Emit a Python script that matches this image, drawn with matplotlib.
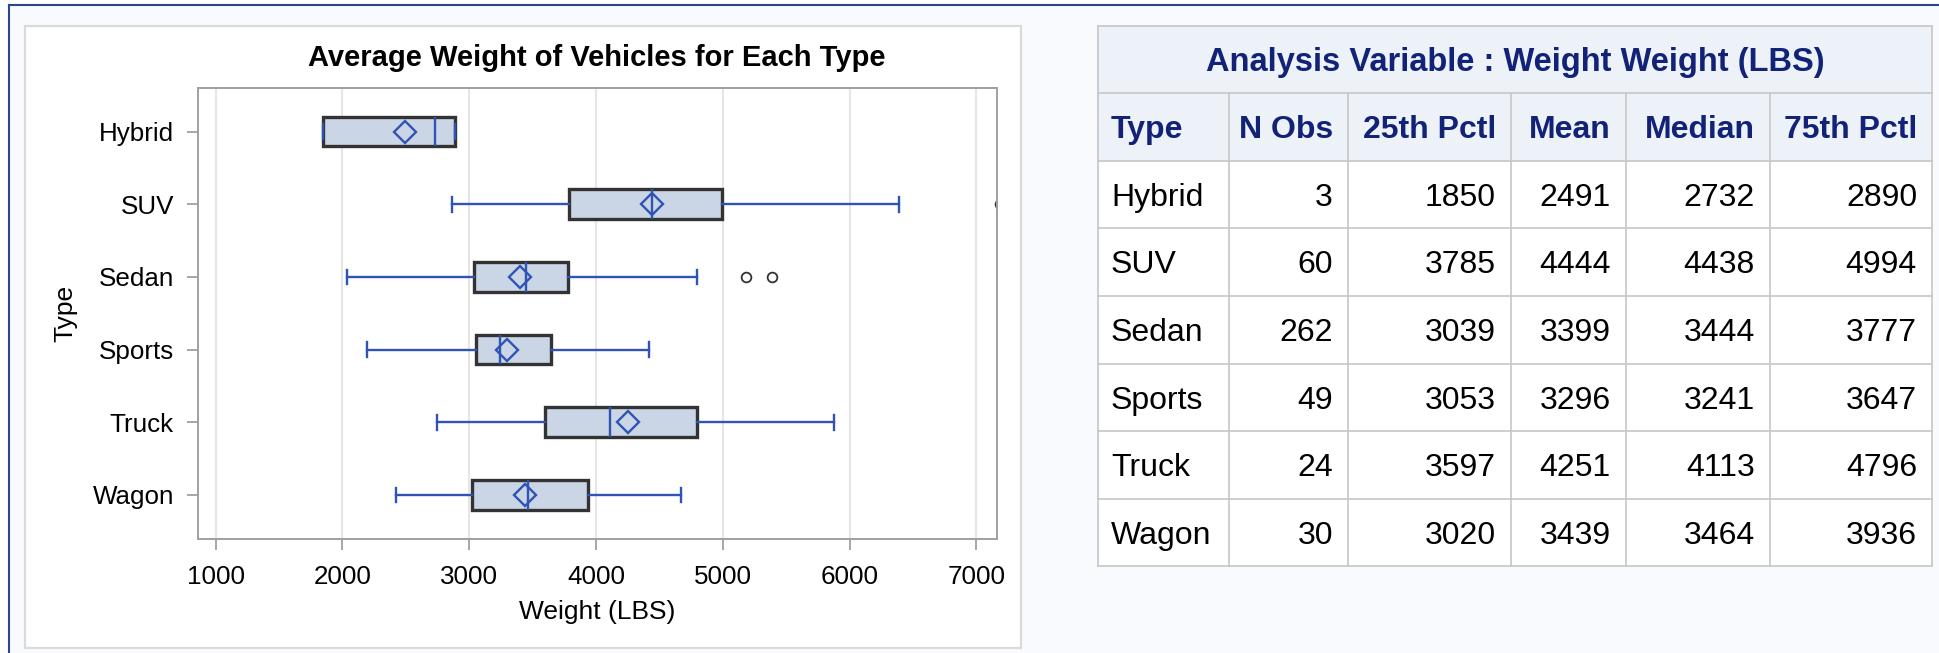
import matplotlib.pyplot as plt
from matplotlib.patches import Rectangle

plt.rcParams['font.family'] = ['Liberation Sans', 'DejaVu Sans']

# summary statistics (from the table)
types = ['Hybrid', 'SUV', 'Sedan', 'Sports', 'Truck', 'Wagon']
n_obs = [3, 60, 262, 49, 24, 30]
pct25 = [1850, 3785, 3039, 3053, 3597, 3020]
means = [2491, 4444, 3399, 3296, 4251, 3439]
medians = [2732, 4438, 3444, 3241, 4113, 3464]
pct75 = [2890, 4994, 3777, 3647, 4796, 3936]
# whisker ends and outliers
whisk_lo = [1850, 2865, 2035, 2195, 2745, 2425]
whisk_hi = [2890, 6390, 4795, 4420, 5875, 4670]
outliers = [[], [7190], [5180, 5390], [], [], []]
xticks = [1000, 2000, 3000, 4000, 5000, 6000, 7000]

col_names = ['Type', 'N Obs', '25th Pctl', 'Mean', 'Median', '75th Pctl']
table_title = 'Analysis Variable : Weight Weight (LBS)'

W, H = 1939, 653
BLUE = '#2F54B4'
HEAD_TXT = '#112277'

fig = plt.figure(figsize=(W / 100, H / 100), dpi=100)

# background layer in pixel coordinates
bg = fig.add_axes([0, 0, 1, 1])
bg.set_xlim(0, W)
bg.set_ylim(H, 0)
bg.axis('off')
bg.add_patch(Rectangle((9, 5), W, H, fc='#F8FAFD', ec='none'))
bg.plot([9, W], [5, 5], color='#2B4592', lw=1.5)
bg.plot([9, 9], [5, H], color='#2B4592', lw=1.5)
bg.add_patch(Rectangle((25, 26), 996, 622, fc='white', ec='#DADADA', lw=1.6))

# chart title
bg.text(597, 66, 'Average Weight of Vehicles for Each Type', ha='center',
        va='baseline', fontsize=21, fontweight='bold', color='black')

# table
col_x = [1098, 1229, 1348, 1511, 1626, 1770, 1932]
row_y = [25.5, 93, 160.5, 228, 295.7, 363.5, 431, 498.7, 566]
grid_c = '#C6C6C6'
fs = 23

bg.add_patch(Rectangle((col_x[0], row_y[0]), col_x[-1] - col_x[0], row_y[2] - row_y[0],
                       fc='#EDF2F9', ec='none'))
bg.add_patch(Rectangle((col_x[0], row_y[2]), col_x[-1] - col_x[0], row_y[-1] - row_y[2],
                       fc='white', ec='none'))
for y in row_y:
    bg.plot([col_x[0], col_x[-1]], [y, y], color=grid_c, lw=1.2)
bg.plot([col_x[0], col_x[0]], [row_y[0], row_y[-1]], color=grid_c, lw=1.2)
bg.plot([col_x[-1], col_x[-1]], [row_y[0], row_y[-1]], color=grid_c, lw=1.2)
for x in col_x[1:-1]:
    bg.plot([x, x], [row_y[1], row_y[-1]], color=grid_c, lw=1.2)

def cell_text(txt, col, row, **kw):
    yc = (row_y[row] + row_y[row + 1]) / 2
    if col == 0:
        bg.text(col_x[0] + 13, yc, txt, ha='left', va='center_baseline', fontsize=fs, **kw)
    else:
        bg.text(col_x[col + 1] - 15, yc, txt, ha='right', va='center_baseline', fontsize=fs, **kw)

bg.text((col_x[0] + col_x[-1]) / 2, (row_y[0] + row_y[1]) / 2, table_title,
        ha='center', va='center_baseline', fontsize=23.5, fontweight='bold', color=HEAD_TXT)
for j, name in enumerate(col_names):
    cell_text(name, j, 1, fontweight='bold', color=HEAD_TXT)
for i, t in enumerate(types):
    vals = [t, n_obs[i], pct25[i], means[i], medians[i], pct75[i]]
    for j, v in enumerate(vals):
        cell_text(str(v), j, i + 2, color='black')

# box plot
ax = fig.add_axes([197.6 / W, (H - 538.5) / H, 799 / W, 450.5 / H])
stats = []
for i, t in enumerate(types):
    stats.append({'label': t, 'q1': pct25[i], 'med': medians[i], 'q3': pct75[i],
                  'mean': means[i], 'whislo': whisk_lo[i], 'whishi': whisk_hi[i],
                  'fliers': outliers[i]})

ax.bxp(stats, positions=range(len(types)), widths=0.41, orientation='horizontal',
       showmeans=True, patch_artist=True, capwidths=0.2,
       boxprops=dict(facecolor='#CAD5E6', edgecolor='#333333', linewidth=2.4),
       medianprops=dict(color=BLUE, linewidth=1.7),
       whiskerprops=dict(color=BLUE, linewidth=1.7),
       capprops=dict(color=BLUE, linewidth=1.7),
       meanprops=dict(marker='D', markerfacecolor='none', markeredgecolor=BLUE,
                      markersize=11, markeredgewidth=1.7),
       flierprops=dict(marker='o', markerfacecolor='none', markeredgecolor='#333333',
                       markersize=7, markeredgewidth=1.3))

ax.set_xlim(857, 7160)
ax.set_ylim(5.6, -0.6)
ax.set_xticks(xticks)
ax.set_yticks(range(len(types)))
ax.set_yticklabels(types)
ax.grid(axis='x', color='#E6E6E6', linewidth=1.5)
ax.set_axisbelow(True)
for s in ax.spines.values():
    s.set_color('#A0A0A0')
    s.set_linewidth(1.4)
ax.tick_params(axis='both', length=8, width=1.3, color='#A0A0A0', labelsize=18.7,
               labelcolor='black')
ax.tick_params(axis='x', pad=11)
ax.tick_params(axis='y', pad=9)
ax.set_xlabel('Weight (LBS)', fontsize=19, labelpad=8)
ax.set_ylabel('Type', fontsize=19, labelpad=11)

fig.savefig('out.png', dpi=100)
